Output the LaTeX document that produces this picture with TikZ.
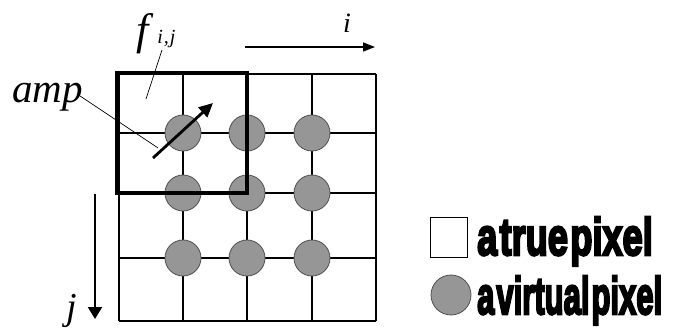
\documentclass[tikz,border=0pt]{standalone}
\usepackage{fontspec}
\setmainfont{Liberation Serif}
\newfontfamily\legendfont{Liberation Sans Bold}[FakeBold=5]
\usetikzlibrary{arrows.meta}
\definecolor{dotfill}{RGB}{150,150,150}
\definecolor{dotedge}{RGB}{80,80,80}
\begin{document}
\begin{tikzpicture}[x=1pt,y=-1pt,
  gridline/.style={line width=1.3pt},
  vpix/.style={circle,fill=dotfill,draw=dotedge,line width=0.8pt,minimum size=36pt,inner sep=0pt},
  tpix/.style={draw,line width=1pt,minimum width=37pt,minimum height=40pt,inner sep=0pt},
  leader/.style={line width=0.7pt},
  lbl/.style={inner sep=0pt,anchor=base west},
  legtext/.style={inner sep=0pt,anchor=base west,font=\legendfont\fontsize{47}{50}\selectfont}]
\useasboundingbox (0,0) rectangle (695,328);
% grid of true pixels
\foreach \x in {119,183,247,312,376} \draw[gridline] (\x,74) -- (\x,321);
\foreach \y in {74,133,193,258,321} \draw[gridline] (119,\y) -- (376,\y);
% virtual pixels
\foreach \x/\a in {183/1,247/2,312/3}
  \foreach \y/\b in {133/1,193/2,258/3}
    \node[vpix] (v\a\b) at (\x,\y) {};
% thick box
\node[draw,line width=3.5pt,minimum width=130pt,minimum height=120pt,inner sep=0pt] (fbox) at (182,133) {};
% amp arrow
\coordinate (ampS) at (153,158);
\coordinate (ampE) at (213,103);
\draw[line width=2.8pt,-{Triangle[length=14pt,width=13pt]}] (ampS) -- (ampE);
% labels
\node[lbl,font=\fontsize{41}{46}\selectfont\itshape] (amp) at (12,103) {amp};
\coordinate (ampL0) at (77,94);
\coordinate (ampL1) at (158,148);
\draw[leader] (ampL0) -- (ampL1);
\node[lbl,font=\fontsize{44}{48}\selectfont\itshape] (f) at (136,45) {f\hspace{9pt}\raisebox{1pt}{\fontsize{20}{20}\selectfont i\hspace{1pt},\hspace{1pt}j}};
\coordinate (fL0) at (162,50);
\coordinate (fL1) at (146,99);
\draw[leader] (fL0) -- (fL1);
% axes
\coordinate (iS) at (245,47);
\coordinate (iE) at (375,47);
\draw[line width=1.3pt,-{Triangle[length=12pt,width=9pt]}] (iS) -- (iE);
\node[lbl,font=\fontsize{28}{30}\selectfont\itshape] (ilab) at (343,33) {i};
\coordinate (jS) at (95,194);
\coordinate (jE) at (95,319);
\draw[line width=2.2pt,-{Triangle[length=12pt,width=14pt]}] (jS) -- (jE);
\node[lbl,font=\fontsize{38}{40}\selectfont\itshape] (jlab) at (66,319) {j};
% legend
\node[tpix] (tp) at (449,238) {};
\node[legtext] (tptext) at (477,255) {\scalebox{0.77}[1.12]{a\hspace{3pt}true\hspace{3pt}pixel}};
\node[vpix,minimum size=40pt] (vp) at (451,295) {};
\node[legtext] (vptext) at (477,314) {\scalebox{0.66}[1.12]{a\hspace{3pt}virtual\hspace{3pt}pixel}};
\end{tikzpicture}
\end{document}
